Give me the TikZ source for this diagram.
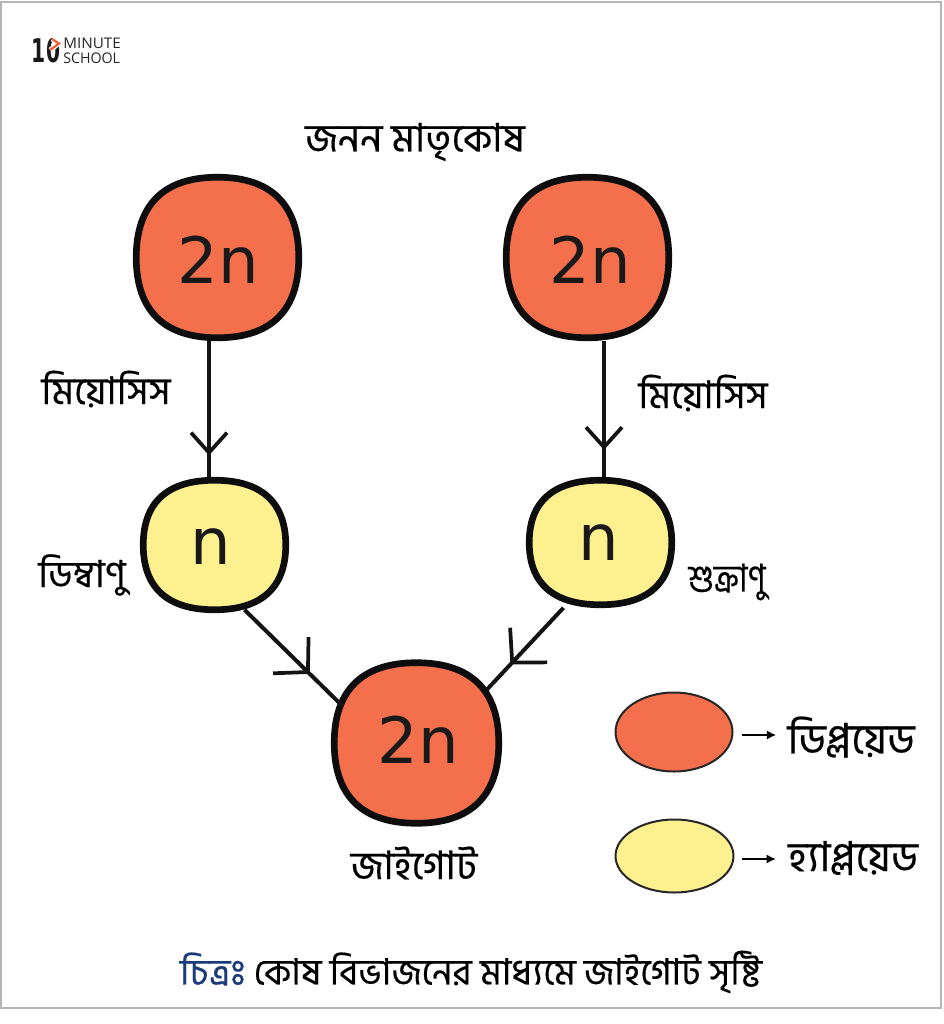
\documentclass[tikz,border=0pt]{standalone}
\usepackage{fontspec}
\usepackage{graphicx}
\usetikzlibrary{calc,arrows.meta,decorations.markings,backgrounds,shapes.geometric}
\setmainfont{DejaVu Sans}
\newfontfamily\bn[Script=Bengali,FakeBold=0.35]{Hind Siliguri}
\newfontfamily\logofont{Open Sans}
\definecolor{redc}{HTML}{F4704D}
\definecolor{yelc}{HTML}{FDF08F}
\definecolor{framec}{HTML}{B5B5B5}
\definecolor{capblue}{HTML}{1B3A7A}
\definecolor{logoor}{HTML}{F0623A}
\newdimen\hunit \hunit=1.5pt
\newdimen\vunit \vunit=0.75pt
\tikzset{
  px/.style={x=0.75pt,y=-0.75pt},
  blobtext/.style={font=\fontsize{48}{48}\selectfont,inner sep=0pt,text=black!90},
  bntext/.style={inner sep=0pt,text=black},
  conn/.style={line width=3pt,draw=black!92},
  barb/.style n args={3}{postaction={decorate},decoration={markings,mark=at position #1 with {\draw[line width=2.8pt,draw=black!92,line join=miter] (-#2,#3) -- (0pt,0pt) -- (-#2,-#3);}}},
  legendshape/.style={ellipse,draw=black!85,line width=1.5pt,inner sep=0pt},
  legendarrow/.style={-{Latex[length=7pt,width=7pt]},line width=1.5pt,draw=black}
}
% name, x, y, w, h (px), fill, text, text dx, text dy (px)
\newcommand{\blobnode}[9]{%
  \node[blobtext,minimum width=#4*0.75pt,minimum height=#5*0.75pt] (#1) at (#2,#3)
    {\hspace*{#8\hunit}\raisebox{-#9\vunit}[\height][\depth]{#7}};
  \begin{scope}[on background layer]
  \draw[line width=5pt,fill=#6,draw=black!95]
    (#1.north)
    .. controls ($(#1.north)!0.66!(#1.north east)$) and ($(#1.east)!0.66!(#1.north east)$) .. (#1.east)
    .. controls ($(#1.east)!0.66!(#1.south east)$) and ($(#1.south)!0.66!(#1.south east)$) .. (#1.south)
    .. controls ($(#1.south)!0.66!(#1.south west)$) and ($(#1.west)!0.66!(#1.south west)$) .. (#1.west)
    .. controls ($(#1.west)!0.66!(#1.north west)$) and ($(#1.north)!0.66!(#1.north west)$) .. (#1.north) -- cycle;
  \end{scope}}
\begin{document}
\begin{tikzpicture}[px]
\useasboundingbox (0,0) rectangle (943,1024);
\node[draw=framec,line width=1.9pt,minimum width=940*0.75pt,minimum height=1006*0.75pt,inner sep=0pt] (frame) at (471,505) {};

% logo
\node[font=\fontsize{24.5}{24}\selectfont\bfseries,inner sep=0pt,text=black!90] (logoten) at (46,51) {\scalebox{0.62}[1]{10}};
\draw[white,line width=3.6pt] (52,39) -- (59,43.5) -- (50,50);
\draw[logoor,line width=1.7pt] (52,39) -- (59,43.5) -- (50,50);
\node[font=\logofont\fontsize{11}{11}\selectfont,inner sep=0pt,text=black!85,anchor=west] (logoa) at (63,43.5) {\scalebox{1.04}[1]{MINUTE}};
\node[font=\logofont\fontsize{11}{11}\selectfont,inner sep=0pt,text=black!85,anchor=west] (logob) at (63,58.5) {\scalebox{0.97}[1]{SCHOOL}};

% blobs
\blobnode{ta}{217.5}{257.5}{162}{160}{redc}{2n}{1}{2}
\blobnode{tb}{587.5}{257.5}{162}{160}{redc}{2n}{2.5}{2}
\blobnode{na}{214.5}{545}{142}{129}{yelc}{n}{-3.5}{2}
\blobnode{nb}{600.5}{542.5}{142}{124}{yelc}{n}{-1.5}{0}
\blobnode{zy}{416.5}{743}{164}{160}{redc}{2n}{2}{-3}

% connectors
\draw[conn,barb={0.82}{15pt}{13.5pt}] ($(ta.south)+(-8.5,3)$) -- ($(na.north)+(-5.5,-3)$);
\draw[conn,barb={0.78}{15pt}{13.5pt}] ($(tb.south)+(16.5,3)$) -- ($(nb.north)+(3.5,-3)$);
\draw[conn,barb={0.65}{18pt}{19pt}] ($(na.south)+(30,0)$) -- ($(zy.north west)+(8,43)$);
\draw[conn,barb={0.67}{18pt}{19pt}] ($(nb.south)+(-37,3)$) -- ($(zy.north east)+(-12,27)$);

% labels
\node[bntext,font=\bn\fontsize{29.5}{32}\selectfont] (title) at (415,142) {জনন মাতৃকোষ};
\node[bntext,font=\bn\fontsize{28.5}{30}\selectfont] (la) at (106,389) {মিয়োসিস};
\node[bntext,font=\bn\fontsize{28.5}{30}\selectfont] (lb) at (703,393) {মিয়োসিস};
\node[bntext,font=\bn\fontsize{28}{30}\selectfont] (lc) at (82,575) {ডিম্বাণু};
\node[bntext,font=\bn\fontsize{24}{30}\selectfont] (ld) at (727,582) {\scalebox{1}[1.2]{শুক্রাণু}};
\node[bntext,font=\bn\fontsize{29.5}{32}\selectfont] (le) at (414,863) {জাইগোট};

% legend
\node[legendshape,fill=redc,minimum width=117*0.75pt,minimum height=79*0.75pt] (lr) at (674,732) {};
\node[legendshape,fill=yelc,minimum width=118*0.75pt,minimum height=73*0.75pt] (ly) at (674.5,856) {};
\node[bntext,font=\bn\fontsize{31.5}{32}\selectfont] (tr) at (851,737) {ডিপ্লয়েড};
\node[bntext,font=\bn\fontsize{31}{32}\selectfont] (ty) at (853,858) {হ্যাপ্লয়েড};
\draw[legendarrow] ($(lr.east)+(8,3)$) -- ($(tr.west)+(-11,-2)$);
\draw[legendarrow] ($(ly.east)+(7,3)$) -- ($(ty.west)+(-12,1)$);

% caption
\node[font=\bn\fontsize{27.3}{32}\selectfont,inner sep=0pt] (cap) at (471,972) {\textcolor{capblue}{চিত্রঃ} কোষ বিভাজনের মাধ্যমে জাইগোট সৃষ্টি};
\end{tikzpicture}
\end{document}
